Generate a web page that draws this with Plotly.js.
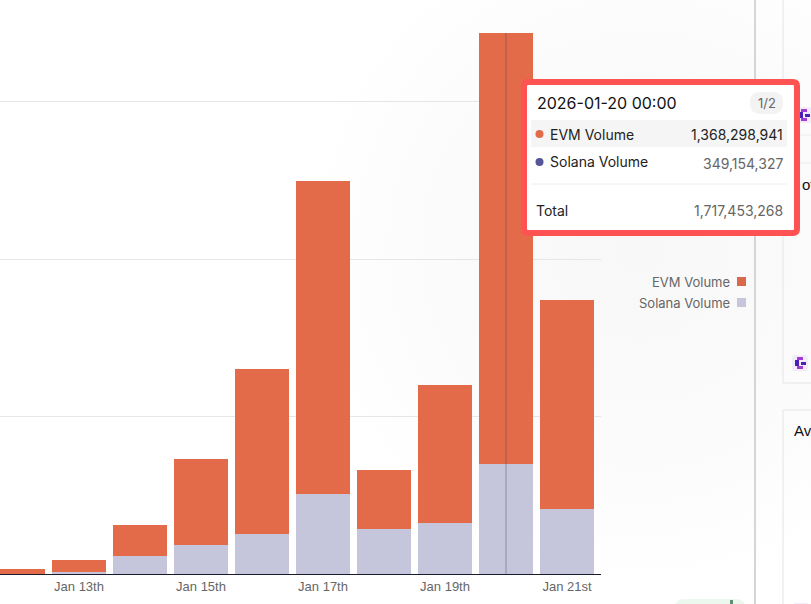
<!DOCTYPE html>
<html><head><meta charset="utf-8">
<script src="https://cdn.plot.ly/plotly-3.0.1.min.js"></script>
<style>
html,body{margin:0;padding:0;width:811px;height:604px;overflow:hidden;background:radial-gradient(circle at 640px 250px,#f8f8f8 0,#fafafa 150px,#ffffff 340px);}
#chart{width:811px;height:604px;}
</style></head><body><div id="chart"></div>
<script>
const days = ["2026-01-12","2026-01-13","2026-01-14","2026-01-15","2026-01-16","2026-01-17","2026-01-18","2026-01-19","2026-01-20","2026-01-21"];
const evmVolume = [15000000,40000000,100000000,273000000,525000000,995000000,186000000,437000000,1368298941,663000000];
const solanaVolume = [1000000,5000000,57000000,92000000,127000000,254000000,143000000,163000000,349154327,206000000];
const tickDates = ["2026-01-13","2026-01-15","2026-01-17","2026-01-19","2026-01-21"];
const tickLabels = ["Jan 13th","Jan 15th","Jan 17th","Jan 19th","Jan 21st"];
const gridValues = [500000000,1000000000,1500000000,1717453268];
const hoverDate = "2026-01-20";
const tooltipTitle = "2026-01-20 00:00";
const tooltipRows = [["EVM Volume","1,368,298,941"],["Solana Volume","349,154,327"],["Total","1,717,453,268"]];

const W=811,H=604;
const px=x=>x/W, py=y=>1-y/H;
const ORANGE="#e36b49",LAV="#c5c6db",BLUE="#55559a";
function rr(x0,y0,x1,y1,r){
  const X=v=>px(v).toFixed(5),Y=v=>py(v).toFixed(5);
  return `M${X(x0+r)},${Y(y0)}L${X(x1-r)},${Y(y0)}Q${X(x1)},${Y(y0)} ${X(x1)},${Y(y0+r)}L${X(x1)},${Y(y1-r)}Q${X(x1)},${Y(y1)} ${X(x1-r)},${Y(y1)}L${X(x0+r)},${Y(y1)}Q${X(x0)},${Y(y1)} ${X(x0)},${Y(y1-r)}L${X(x0)},${Y(y0+r)}Q${X(x0)},${Y(y0)} ${X(x0+r)},${Y(y0)}Z`;
}
const rect=(x0,y0,x1,y1,fill,layer)=>({type:'rect',xref:'paper',yref:'paper',x0:px(x0),x1:px(x1),y0:py(y1),y1:py(y0),fillcolor:fill,line:{width:0},layer:layer||'above'});
const line=(x0,y0,x1,y1,c,w,layer)=>({type:'line',xref:'paper',yref:'paper',x0:px(x0),x1:px(x1),y0:py(y0),y1:py(y1),line:{color:c,width:w||1},layer:layer||'above'});
const path=(d,fill,lc,lw)=>({type:'path',xref:'paper',yref:'paper',path:d,fillcolor:fill,line:{color:lc||fill,width:lw||0}});
const dot=(cx,cy,r,fill)=>({type:'circle',xref:'paper',yref:'paper',x0:px(cx-r),x1:px(cx+r),y0:py(cy+r),y1:py(cy-r),fillcolor:fill,line:{width:0}});
const txt=(t,x,y,o)=>Object.assign({text:t,xref:'paper',yref:'paper',x:px(x),y:py(y),showarrow:false,borderpad:0,xanchor:'left',yanchor:'middle',font:{family:'Inter, sans-serif',size:14,color:'#222'}},o||{});
const icon=(cx,cy)=>[
  path(rr(cx-8,cy-8,cx+8,cy+8,3),"#f1ebfb"),
  rect(cx-3,cy-6,cx+3,cy-3,"#a23bd6"),
  rect(cx-5,cy-3,cx-1,cy+3,"#4a1fb8"),
  rect(cx+1,cy-1,cx+6,cy+2,"#4a1fb8"),
  rect(cx-3,cy+3,cx+3,cy+6,"#a23bd6")
];

const shapes=[
  line(755,0,755,604,"#c9c9c9",1.5),
  line(783,0,783,383,"#ececec",1.5),
  line(783,410,783,604,"#ececec",1.5),
  line(783,383,811,383,"#ececec",1.5),
  line(783,410,811,410,"#ececec",1.5),
  line(783,135,811,135,"#ececec",1),
  line(783,163,811,163,"#ececec",1),
  ...icon(804,115),
  ...icon(800,363),
  ...icon(801,611),
  path(rr(675,599,745,620,9),"#ecf8ee"),
  rect(730,600,733,604,"#5f8f72"),
  {type:'line',xref:'x',yref:'paper',x0:hoverDate,x1:hoverDate,y0:30/H,y1:571/H,line:{color:"rgba(70,70,80,0.45)",width:1},layer:'above'},
  rect(737,277,746,286,"#d9694a"),
  rect(737,298,746,307,LAV),
  path(rr(524,82,797,233,4),"#ffffff","#ff5252",6),
  path(rr(750,92,783,114,10),"#f3f3f3"),
  rect(531,120,787,147,"#f5f5f5"),
  dot(539.5,134,4,ORANGE),
  dot(539.5,162,4,BLUE),
  line(531,184,787,184,"#eeeeee",1)
];
const annotations=[
  txt(tooltipTitle,536,102.5,{font:{family:'Inter, sans-serif',size:16,color:'#111'}}),
  txt("1/2",766.5,103,{xanchor:'center',font:{family:'Inter, sans-serif',size:13,color:'#666'}}),
  txt(tooltipRows[0][0],549,134),
  txt(tooltipRows[0][1],784,134,{xanchor:'right'}),
  txt(tooltipRows[1][0],549,162),
  txt(tooltipRows[1][1],784,163,{xanchor:'right',font:{family:'Inter, sans-serif',size:14,color:'#666'}}),
  txt(tooltipRows[2][0],535,210),
  txt(tooltipRows[2][1],784,210,{xanchor:'right',font:{family:'Inter, sans-serif',size:14,color:'#666'}}),
  txt("EVM Volume",731,281.5,{xanchor:'right',font:{family:'Inter, sans-serif',size:13,color:'#666'}}),
  txt("Solana Volume",731,302.5,{xanchor:'right',font:{family:'Inter, sans-serif',size:13,color:'#666'}}),
  txt("ot",800.5,184,{font:{family:'Liberation Sans, sans-serif',size:15,color:'#111'}}),
  txt("Ave",793,430,{font:{family:'Liberation Sans, sans-serif',size:15,color:'#111'}})
];
const dayMs=86400000;
const traces=[
  {type:'bar',name:'Solana Volume',x:days,y:solanaVolume,width:0.9*dayMs,marker:{color:LAV,line:{width:0}},hoverinfo:'x+y+name'},
  {type:'bar',name:'EVM Volume',x:days,y:evmVolume,width:0.9*dayMs,marker:{color:ORANGE,line:{width:0}},hoverinfo:'x+y+name'}
];
const layout={
  width:W,height:H,autosize:false,
  margin:{l:0,r:0,t:0,b:0,pad:0},
  paper_bgcolor:'rgba(0,0,0,0)',plot_bgcolor:'rgba(0,0,0,0)',
  barmode:'stack',showlegend:false,
  xaxis:{type:'date',domain:[0,601/W],range:["2026-01-11 16:55","2026-01-21 13:22"],
    tickmode:'array',tickvals:tickDates,ticktext:tickLabels,ticks:'',showgrid:false,
    showline:true,linecolor:'#1a1a2e',linewidth:1,zeroline:false,
    tickfont:{family:'Liberation Sans, Arial, sans-serif',size:13,color:'#666'}},
  yaxis:{domain:[30/H,571/H],range:[0,1717453268],tickmode:'array',tickvals:gridValues,
    showticklabels:false,ticks:'',showgrid:true,gridcolor:'#e6e6e6',gridwidth:1,zeroline:false,showline:false},
  shapes,annotations
};
Plotly.newPlot('chart',traces,layout,{displayModeBar:false,responsive:false});
</script></body></html>
